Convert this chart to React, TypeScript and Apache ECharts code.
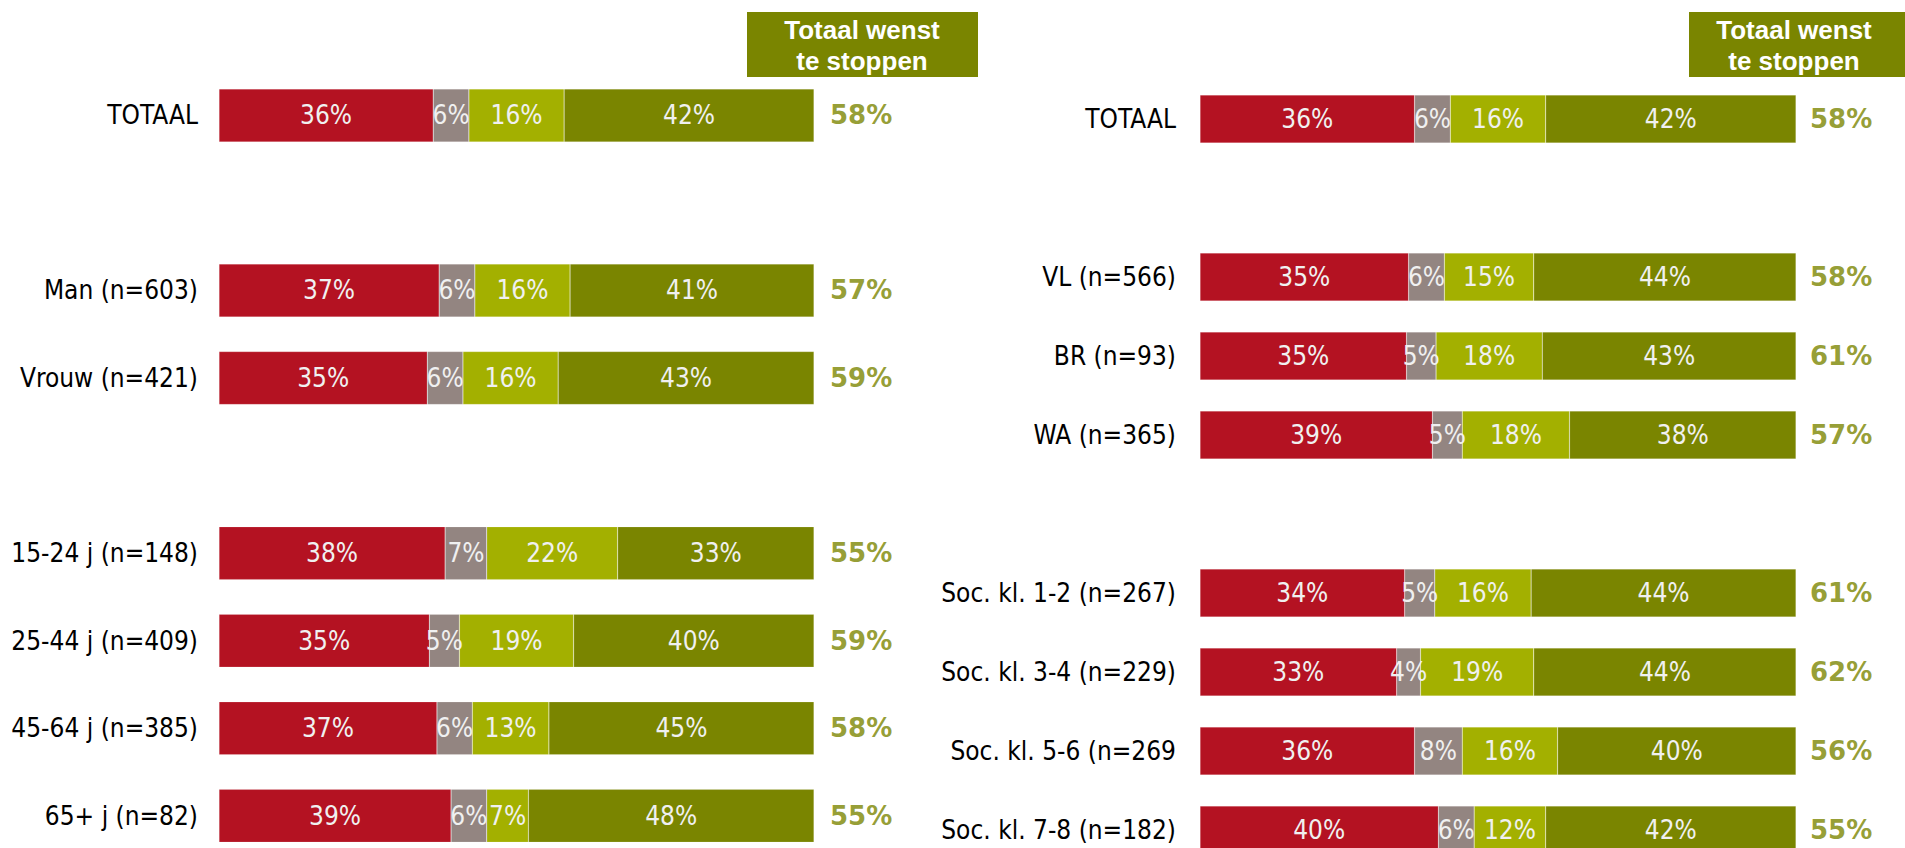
import React, { useEffect, useRef } from "react";
import * as echarts from "echarts";

const leftCategories = ["TOTAAL", " ", "Man (n=603)", "Vrouw (n=421)", "  ", "15-24 j (n=148)", "25-44 j (n=409)", "45-64 j (n=385)", "65+ j (n=82)"];
const leftRed = [36, null, 37, 35, null, 38, 35, 37, 39];
const leftGrey = [6, null, 6, 6, null, 7, 5, 6, 6];
const leftLight = [16, null, 16, 16, null, 22, 19, 13, 7];
const leftOlive = [42, null, 41, 43, null, 33, 40, 45, 48];
const leftTotal = [58, null, 57, 59, null, 55, 59, 58, 55];

const rightCategories = ["TOTAAL", " ", "VL (n=566)", "BR (n=93)", "WA (n=365)", "  ", "Soc. kl. 1-2 (n=267)", "Soc. kl. 3-4 (n=229)", "Soc. kl. 5-6 (n=269", "Soc. kl. 7-8 (n=182)"];
const rightRed = [36, null, 35, 35, 39, null, 34, 33, 36, 40];
const rightGrey = [6, null, 6, 5, 5, null, 5, 4, 8, 6];
const rightLight = [16, null, 15, 18, 18, null, 16, 19, 16, 12];
const rightOlive = [42, null, 44, 43, 38, null, 44, 44, 40, 42];
const rightTotal = [58, null, 58, 61, 57, null, 61, 62, 56, 55];

const headerLines = ["Totaal wenst", "te stoppen"];

const COLORS = ["#B41222", "#938581", "#A3B000", "#7A8500"];
const FONT = "DejaVu Sans Condensed";

function buildSeries(segments: (number | null)[][], totals: (number | null)[], gridIndex: number, barWidth: number, totalDist: number) {
  const sums = totals.map((_, i) => segments.reduce((s, seg) => s + (seg[i] ?? 0), 0));
  const series: any[] = segments.map((seg, k) => ({
    type: "bar",
    stack: "s" + gridIndex,
    xAxisIndex: gridIndex,
    yAxisIndex: gridIndex,
    barWidth,
    itemStyle: { color: COLORS[k], borderColor: "rgba(255,255,255,0.35)", borderWidth: 0.5 },
    label: {
      show: true,
      position: "inside",
      color: "#f0f0f0",
      fontFamily: FONT,
      fontSize: 26,
      formatter: (p: any) => (p.data && p.data.raw != null ? p.data.raw + "%" : ""),
    },
    data: seg.map((v, i) => (v == null ? { value: "-", raw: null } : { value: (v / sums[i]) * 100, raw: v })),
  }));
  series.push({
    type: "scatter",
    xAxisIndex: gridIndex,
    yAxisIndex: gridIndex,
    symbolSize: 0,
    silent: true,
    label: {
      show: true,
      position: "right",
      distance: totalDist,
      color: "#7A8500",
      fontWeight: "bold",
      fontFamily: "DejaVu Sans",
      fontSize: 26,
      formatter: (p: any) => p.value[2] + "%",
    },
    data: totals.map((v, i) => (v == null ? null : [100, i, v])).filter((d) => d != null),
  });
  return series;
}

function header(x: number, w: number, cx: number) {
  return {
    type: "group",
    children: [
      { type: "rect", shape: { x, y: 12, width: w, height: 65 }, style: { fill: "#7A8500" } },
      ...headerLines.map((t, i) => ({
        type: "text",
        x: cx,
        y: 30 + i * 31,
        style: { text: t, fill: "#ffffff", font: "bold 26px 'Liberation Sans', Arial, sans-serif", textAlign: "center", textVerticalAlign: "middle" },
      })),
    ],
  };
}

export default function App() {
  const ref = useRef<HTMLDivElement>(null);
  useEffect(() => {
    if (!ref.current) return;
    const chart = echarts.init(ref.current, null, { renderer: "svg" });
    const yAxisBase = {
      type: "category",
      inverse: true,
      axisLine: { show: false },
      axisTick: { show: false },
      axisLabel: { color: "#000", fontFamily: FONT, fontSize: 26 },
    };
    chart.setOption({
      animation: false,
      backgroundColor: "#ffffff",
      grid: [
        { left: 219, width: 595, top: 71.6, height: 788 },
        { left: 1200, width: 596, top: 79.5, height: 790 },
      ],
      xAxis: [
        { gridIndex: 0, type: "value", min: 0, max: 100, show: false },
        { gridIndex: 1, type: "value", min: 0, max: 100, show: false },
      ],
      yAxis: [
        { ...yAxisBase, gridIndex: 0, data: leftCategories, axisLabel: { ...yAxisBase.axisLabel, margin: 21 } },
        { ...yAxisBase, gridIndex: 1, data: rightCategories, axisLabel: { ...yAxisBase.axisLabel, margin: 24 } },
      ],
      series: [
        ...buildSeries([leftRed, leftGrey, leftLight, leftOlive], leftTotal, 0, 53, 16),
        ...buildSeries([rightRed, rightGrey, rightLight, rightOlive], rightTotal, 1, 48, 14),
      ],
      graphic: [header(747, 231, 862), header(1689, 216, 1794)],
    });
    return () => chart.dispose();
  }, []);
  return <div ref={ref} style={{ position: "fixed", left: 0, top: 0, width: 1905, height: 900 }} />;
}
